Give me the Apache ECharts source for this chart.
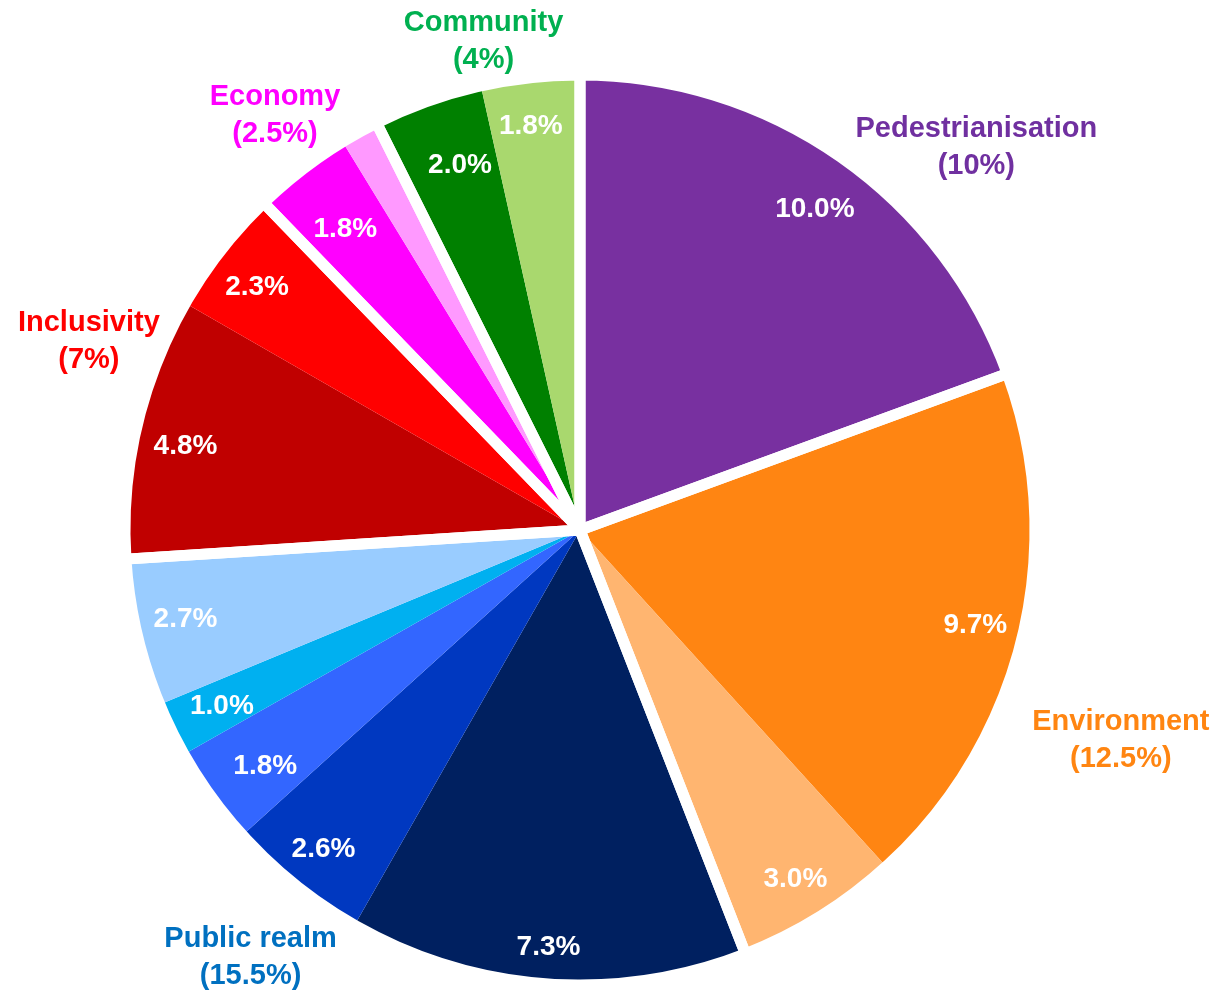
<!DOCTYPE html>
<html>
<head>
    <meta charset="UTF-8">
    <title>Pie</title>
    <script src="https://cdn.jsdelivr.net/npm/echarts@6/dist/echarts.min.js"></script>
    <style>
        body {
            margin: 0;
            background: #ffffff;
        }
        #main {
            width: 1211px;
            height: 990px;
        }
    </style>
</head>
<body>
    <div id="main"></div>
    <script>
        // slices, clockwise from 12 o'clock
        var sliceValues = [10.0, 9.7, 3.0, 7.3, 2.6, 1.8, 1.0, 2.7, 4.8, 2.3, 1.8, 0.7, 2.0, 1.8];
        var sliceLabels = ['10.0%', '9.7%', '3.0%', '7.3%', '2.6%', '1.8%', '1.0%', '2.7%', '4.8%', '2.3%', '1.8%', '', '2.0%', '1.8%'];
        var sliceColors = ['#7830A0', '#FF8512', '#FFB570', '#002060', '#0038C0', '#3366FF', '#00B0F0', '#99CCFF',
                           '#C00000', '#FF0000', '#FF00FF', '#FF99FF', '#008000', '#A9D86E'];
        var sliceGroup = [0, 1, 1, 2, 2, 2, 2, 2, 3, 3, 4, 4, 5, 5];
        // small nudges of the percentage labels
        var sliceLabelOffset = [[4, 10], [4, -1], [3, 7], [-2, 15], [-4, 5], [12, 0], [4, -1], [-2, -2],
                                [-2, 8], [-5, 5], [12, 18], [0, 0], [15, 15], [-5, -3]];

        var groupNames = ['Pedestrianisation', 'Environment', 'Public realm', 'Inclusivity', 'Economy', 'Community'];
        var groupPct = ['10%', '12.5%', '15.5%', '7%', '2.5%', '4%'];
        var groupColors = ['#7030A0', '#FF8511', '#0070C0', '#FF0000', '#FF00FF', '#00B050'];
        var groupLabelOffset = [[91, 54], [55, -9], [-43, -22], [6, 4], [3, 20], [26, 30]];

        var groupValues = groupNames.map(function (g, gi) {
            var s = 0;
            sliceValues.forEach(function (v, i) { if (sliceGroup[i] === gi) s += v; });
            return +s.toFixed(2);
        });

        var chart = echarts.init(document.getElementById('main'));
        var center = [580, 530];
        var font = 'Liberation Sans, Arial, sans-serif';

        var option = {
            backgroundColor: '#ffffff',
            animation: false,
            series: [
                {
                    // coloured slices
                    type: 'pie',
                    center: center,
                    radius: [0, 455],
                    startAngle: 90,
                    silent: true,
                    avoidLabelOverlap: false,
                    label: { show: false },
                    labelLine: { show: false },
                    itemStyle: { borderWidth: 0 },
                    data: sliceValues.map(function (v, i) {
                        return { value: v, name: 's' + i, itemStyle: { color: sliceColors[i] } };
                    })
                },
                {
                    // white gaps between the groups
                    type: 'pie',
                    center: center,
                    radius: [0, 455],
                    startAngle: 90,
                    silent: true,
                    avoidLabelOverlap: false,
                    label: { show: false },
                    labelLine: { show: false },
                    itemStyle: {
                        color: 'rgba(0,0,0,0)',
                        borderColor: '#ffffff',
                        borderWidth: 11,
                        borderJoin: 'round'
                    },
                    data: groupValues.map(function (v, i) {
                        return { value: v, name: groupNames[i] };
                    })
                },
                {
                    // slice percentages
                    type: 'pie',
                    center: center,
                    radius: [352, 448],
                    startAngle: 90,
                    silent: true,
                    avoidLabelOverlap: false,
                    itemStyle: { color: 'rgba(0,0,0,0)' },
                    labelLine: { show: false },
                    label: {
                        show: true,
                        position: 'inside',
                        color: '#ffffff',
                        fontFamily: font,
                        fontWeight: 'bold',
                        fontSize: 28,
                        formatter: function (p) { return sliceLabels[p.dataIndex]; }
                    },
                    data: sliceValues.map(function (v, i) {
                        return { value: v, name: 'l' + i, label: { offset: sliceLabelOffset[i] } };
                    })
                },
                {
                    // group names
                    type: 'pie',
                    center: center,
                    radius: [500, 560],
                    startAngle: 90,
                    silent: true,
                    avoidLabelOverlap: false,
                    itemStyle: { color: 'rgba(0,0,0,0)' },
                    labelLine: { show: false },
                    label: {
                        show: true,
                        position: 'inside',
                        fontFamily: font,
                        fontWeight: 'bold',
                        fontSize: 29,
                        lineHeight: 37,
                        formatter: function (p) {
                            return groupNames[p.dataIndex] + '\n(' + groupPct[p.dataIndex] + ')';
                        }
                    },
                    data: groupValues.map(function (v, i) {
                        return {
                            value: v,
                            name: 'g' + i,
                            label: { color: groupColors[i], offset: groupLabelOffset[i] }
                        };
                    })
                }
            ]
        };

        chart.setOption(option);
    </script>
</body>
</html>
